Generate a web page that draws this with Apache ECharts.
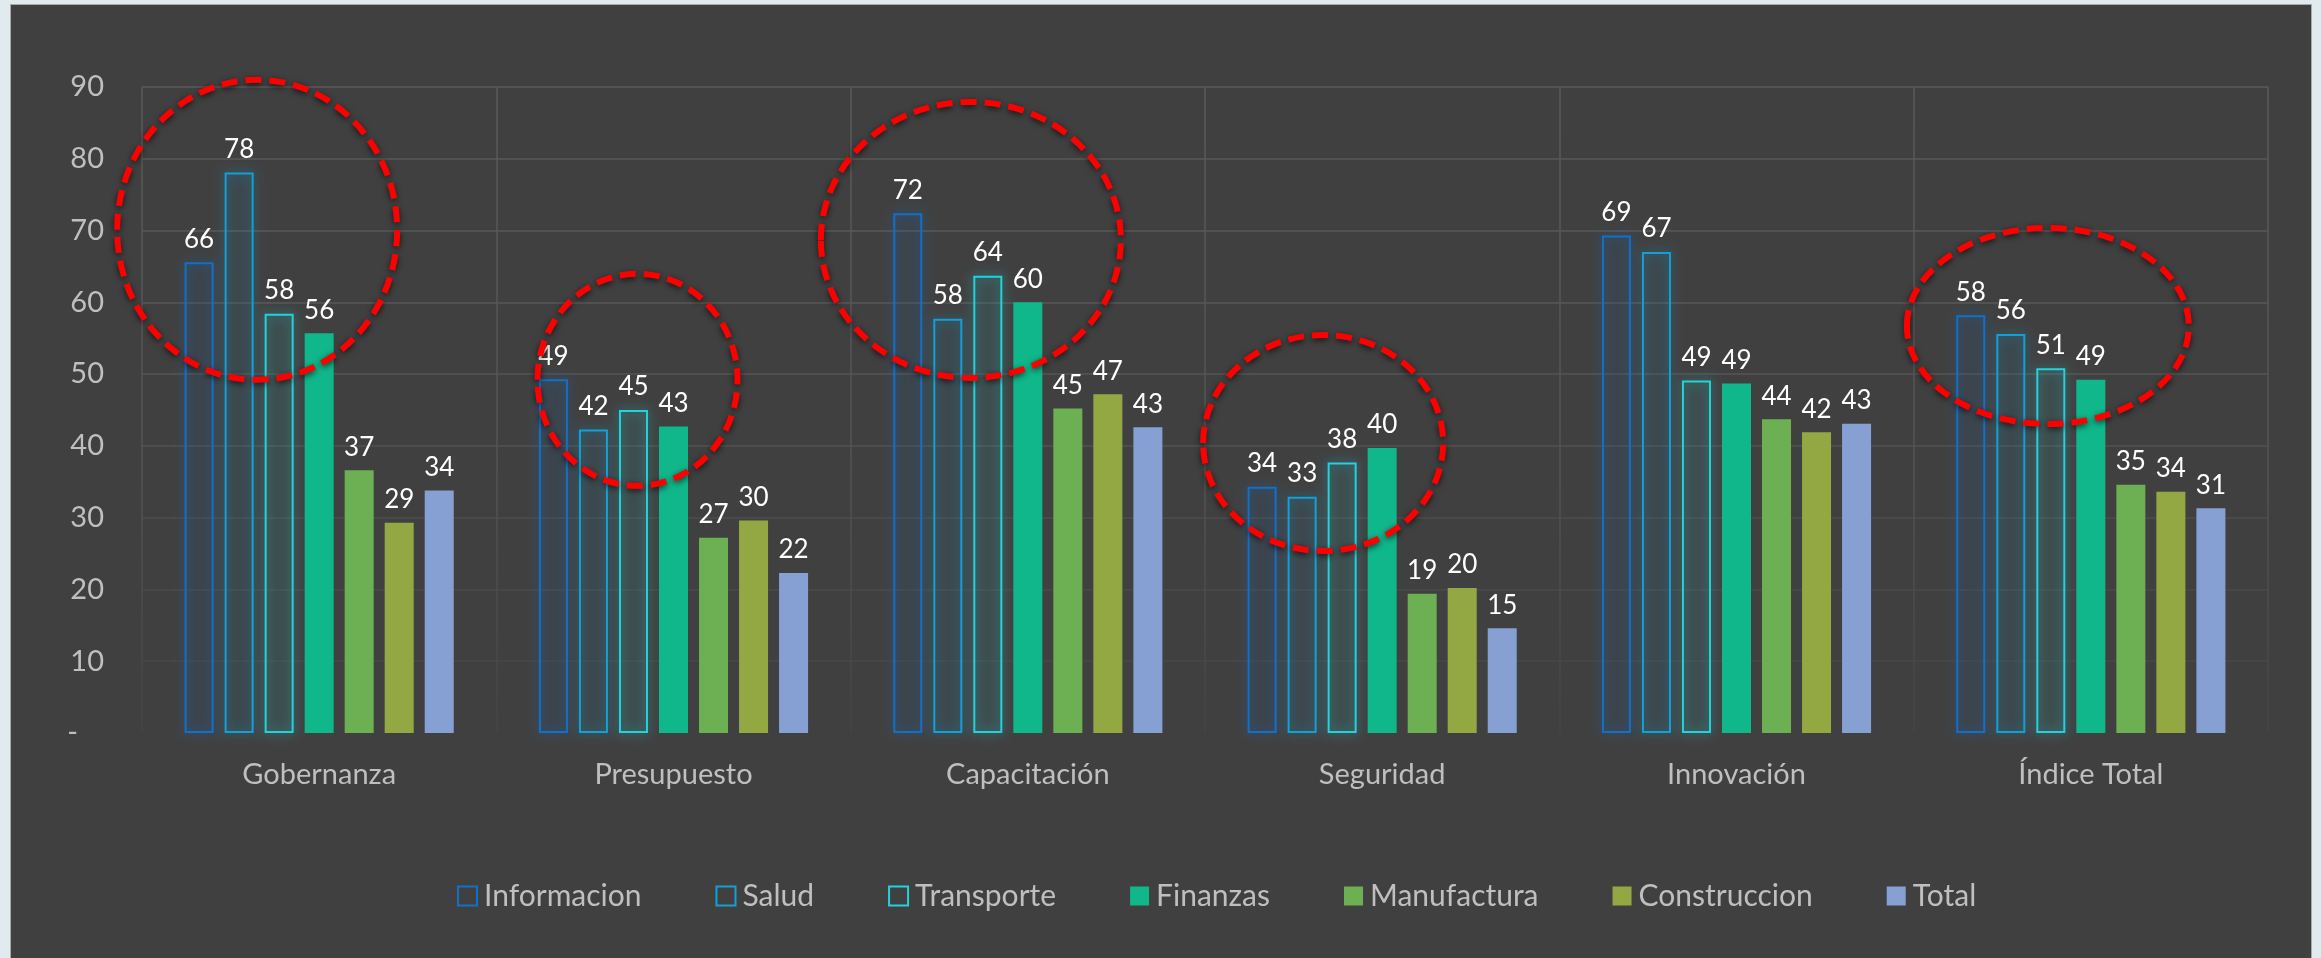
<!DOCTYPE html>
<html>
<head>
<meta charset="utf-8">
<script src="https://cdn.jsdelivr.net/npm/echarts@6/dist/echarts.min.js"></script>
<style>
  html, body { margin: 0; padding: 0; background: #e1eaee; width: 2321px; height: 958px; overflow: hidden; }
  #panel { position: absolute; left: 10px; top: 4px; width: 2302px; height: 960px; background: #404040; border: 1px solid #a9a9a9; box-sizing: border-box; }
  #chart { position: absolute; left: 0; top: 0; width: 2321px; height: 958px; }
</style>
</head>
<body>
<div id="panel"></div>
<div id="chart"></div>
<script>
// ---- data ----
const categories = ['Gobernanza', 'Presupuesto', 'Capacitación', 'Seguridad', 'Innovación', 'Índice Total'];
const seriesNames = ['Informacion', 'Salud', 'Transporte', 'Finanzas', 'Manufactura', 'Construccion', 'Total'];
const informacion  = [65.6, 49.3, 72.4, 34.3, 69.3, 58.2];
const salud        = [78.1, 42.3, 57.7, 32.9, 67.0, 55.6];
const transporte   = [58.4, 45.0, 63.7, 37.7, 49.1, 50.8];
const finanzas     = [55.7, 42.7, 60.0, 39.7, 48.7, 49.2];
const manufactura  = [36.6, 27.2, 45.2, 19.4, 43.7, 34.6];
const construccion = [29.3, 29.6, 47.2, 20.2, 41.9, 33.6];
const total        = [33.8, 22.3, 42.6, 14.6, 43.1, 31.3];
const yTicks = [0, 10, 20, 30, 40, 50, 60, 70, 80, 90];
// highlighted groups (annotation ellipses): category index, centre value, x offset px, radii px
const highlights = [
  { cat: 0, value: 70.1, dx: -62, rx: 140, ry: 150 },
  { cat: 1, value: 49.2, dx: -36, rx: 100, ry: 106 },
  { cat: 2, value: 68.7, dx: -57, rx: 150, ry: 138 },
  { cat: 3, value: 40.4, dx: -59, rx: 120, ry: 108 },
  { cat: 5, value: 56.7, dx: -43, rx: 141, ry: 98 }
];

const allValues = [informacion, salud, transporte, finanzas, manufactura, construccion, total];
const colors = ['#1270c8', '#12a0d8', '#22d2dc', '#0fb78a', '#6db054', '#93a843', '#86a0d4'];
const hollow = [true, true, true, false, false, false, false];
const FONT = 'Lato, "Open Sans", sans-serif';

function hexToRgba(h, a) {
  const n = parseInt(h.slice(1), 16);
  return 'rgba(' + ((n >> 16) & 255) + ',' + ((n >> 8) & 255) + ',' + (n & 255) + ',' + a + ')';
}

const series = seriesNames.map((name, i) => ({
  name: name,
  type: 'bar',
  data: allValues[i],
  barWidth: 29,
  barGap: '38%',
  itemStyle: hollow[i] ? {
    color: hexToRgba(colors[i], 0.05),
    borderColor: colors[i],
    borderWidth: 2,
    shadowBlur: 12,
    shadowColor: hexToRgba(colors[i], 0.75)
  } : { color: colors[i] },
  label: {
    show: true,
    position: 'top',
    distance: 10,
    color: '#ffffff',
    fontSize: 26,
    fontFamily: FONT,
    formatter: p => String(Math.round(p.value))
  }
}));

const legendData = seriesNames.map((name, i) => hollow[i] ? {
  name: name,
  itemStyle: { color: 'rgba(0,0,0,0)', borderColor: colors[i], borderWidth: 2, shadowBlur: 0 }
} : { name: name, itemStyle: { color: colors[i], shadowBlur: 0 } });

const chart = echarts.init(document.getElementById('chart'), null, { renderer: 'canvas' });

const hGridColors = ['#404040', '#474747', '#4a4a4a', '#4d4d4d', '#525252', '#555555', '#575757', '#585858', '#595959', '#5a5a5a'];

chart.setOption({
  backgroundColor: 'transparent',
  animation: false,
  textStyle: { fontFamily: FONT },
  grid: { left: 142, right: 53, top: 87, bottom: 225, containLabel: false },
  legend: {
    data: legendData,
    top: 876,
    left: 452,
    icon: 'rect',
    itemWidth: 19,
    itemHeight: 19,
    itemGap: 74,
    textStyle: { color: '#bfbfbf', fontSize: 30, fontFamily: FONT, padding: [0, 0, 0, 2] }
  },
  xAxis: {
    type: 'category',
    data: categories,
    axisLine: { show: false },
    axisTick: { show: false },
    axisLabel: { color: '#bfbfbf', fontSize: 29, margin: 27, fontFamily: FONT },
    splitLine: {
      show: true,
      lineStyle: {
        width: 1.5,
        color: new echarts.graphic.LinearGradient(0, 0, 0, 1, [
          { offset: 0, color: '#5a5a5a' },
          { offset: 0.6, color: '#535353' },
          { offset: 1, color: '#444444' }
        ])
      }
    }
  },
  yAxis: {
    type: 'value',
    min: yTicks[0],
    max: yTicks[yTicks.length - 1],
    interval: yTicks[1] - yTicks[0],
    axisLine: { show: false },
    axisTick: { show: false },
    axisLabel: {
      color: '#bfbfbf',
      fontSize: 29,
      margin: 38,
      fontFamily: FONT,
      formatter: v => v === 0 ? '{d|-}' : String(v),
      rich: { d: { color: '#bfbfbf', fontSize: 29, fontFamily: FONT, padding: [0, 26, 0, 0] } }
    },
    splitLine: { show: true, lineStyle: { width: 1.5, color: hGridColors } }
  },
  series: series
});

function drawHighlights() {
  const els = highlights.map(h => {
    const c = chart.convertToPixel({ xAxisIndex: 0, yAxisIndex: 0 }, [h.cat, h.value]);
    return {
      type: 'ellipse',
      shape: { cx: c[0] + h.dx, cy: c[1], rx: h.rx, ry: h.ry },
      z: 100,
      style: {
        fill: null,
        stroke: '#ff0000',
        lineWidth: 6,
        lineDash: [16, 8],
        shadowBlur: 6,
        shadowOffsetY: 2,
        shadowColor: 'rgba(0,0,0,0.7)'
      }
    };
  });
  chart.setOption({ graphic: els });
}
drawHighlights();
</script>
</body>
</html>
